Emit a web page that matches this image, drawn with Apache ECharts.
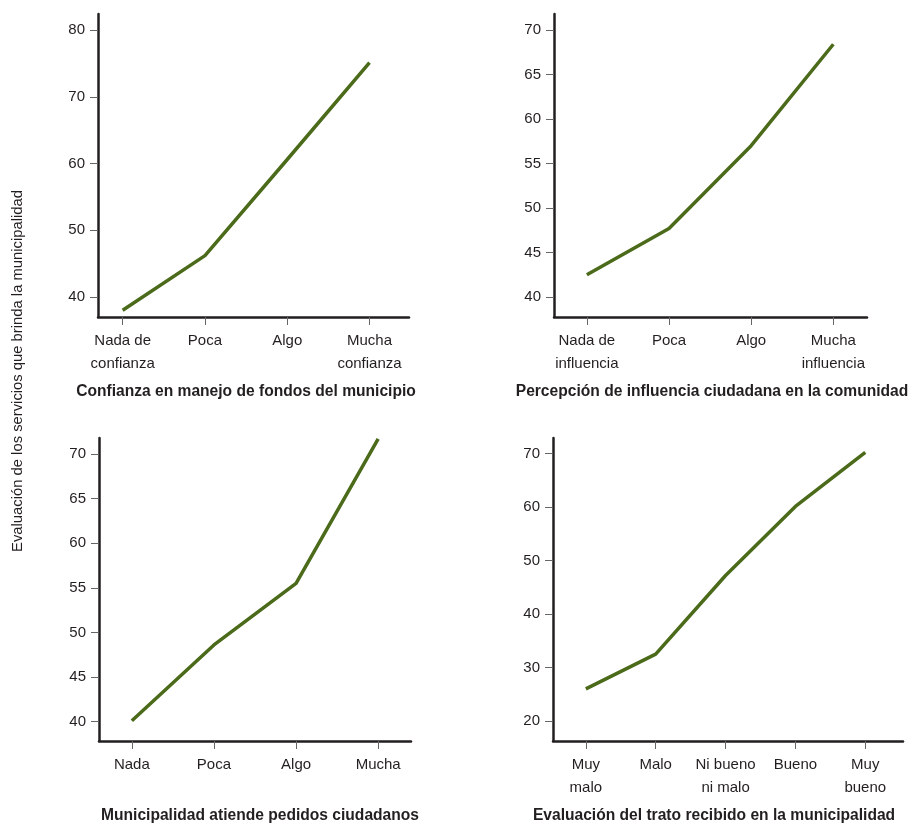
<!DOCTYPE html>
<html><head><meta charset="utf-8">
<script src="https://cdn.jsdelivr.net/npm/echarts@6/dist/echarts.min.js"></script>
<style>html,body{margin:0;padding:0;background:#fff}#c{width:911px;height:823px}</style>
</head><body><div id="c"></div>
<script>
// ---- data ----
const cats1 = ["Nada de\nconfianza", "Poca", "Algo", "Mucha\nconfianza"];
const vals1 = [38.0, 46.2, 60.6, 75.1];
const ticks1 = [40, 50, 60, 70, 80];
const title1 = "Confianza en manejo de fondos del municipio";

const cats2 = ["Nada de\ninfluencia", "Poca", "Algo", "Mucha\ninfluencia"];
const vals2 = [42.5, 47.7, 57.0, 68.4];
const ticks2 = [40, 45, 50, 55, 60, 65, 70];
const title2 = "Percepción de influencia ciudadana en la comunidad";

const cats3 = ["Nada", "Poca", "Algo", "Mucha"];
const vals3 = [40.1, 48.6, 55.5, 71.7];
const ticks3 = [40, 45, 50, 55, 60, 65, 70];
const title3 = "Municipalidad atiende pedidos ciudadanos";

const cats4 = ["Muy\nmalo", "Malo", "Ni bueno\nni malo", "Bueno", "Muy\nbueno"];
const vals4 = [26.0, 32.5, 47.2, 60.1, 70.2];
const ticks4 = [20, 30, 40, 50, 60, 70];
const title4 = "Evaluación del trato recibido en la municipalidad";

const yTitle = "Evaluación de los servicios que brinda la municipalidad";

// ---- layout ----
const boxes = [
  {l: 98, t: 14, r: 409, b: 317, xmin: -0.30, xmax: 3.48, ymin: 37, ymax: 82.4},
  {l: 554, t: 14, r: 867, b: 317, xmin: -0.40, xmax: 3.41, ymin: 37.75, ymax: 71.8},
  {l: 99, t: 438, r: 411, b: 741, xmin: -0.40, xmax: 3.40, ymin: 37.83, ymax: 71.8},
  {l: 553, t: 438, r: 903, b: 741, xmin: -0.47, xmax: 4.54, ymin: 16.26, ymax: 72.9}
];
const panels = [
  {cats: cats1, vals: vals1, ticks: ticks1, title: title1},
  {cats: cats2, vals: vals2, ticks: ticks2, title: title2},
  {cats: cats3, vals: vals3, ticks: ticks3, title: title3},
  {cats: cats4, vals: vals4, ticks: ticks4, title: title4}
];
const titlePos = [[241, 379], [707, 379], [255, 803], [709, 803]];

const FONT = "'Liberation Sans', Arial, sans-serif";
const TXT = "#231f20";
const grid = [], xAxis = [], yAxis = [], series = [], titles = [];
panels.forEach((p, i) => {
  const b = boxes[i];
  grid.push({left: b.l, top: b.t, width: b.r - b.l, height: b.b - b.t, containLabel: false});
  const idx = p.cats.map((_, k) => k);
  xAxis.push({
    type: 'value', gridIndex: i, min: b.xmin, max: b.xmax, position: 'bottom',
    splitLine: {show: false},
    axisLine: {show: true, onZero: false, lineStyle: {color: TXT, width: 2.5}},
    axisTick: {show: true, customValues: idx, length: 8, lineStyle: {color: '#666', width: 1}},
    axisLabel: {show: true, customValues: idx, margin: 12, color: TXT, fontFamily: FONT, fontSize: 15, lineHeight: 23,
      formatter: v => p.cats[Math.round(v)] || ''}
  });
  yAxis.push({
    type: 'value', gridIndex: i, min: b.ymin, max: b.ymax, position: 'left',
    splitLine: {show: false},
    axisLine: {show: true, onZero: false, lineStyle: {color: TXT, width: 2.5}},
    axisTick: {show: true, customValues: p.ticks, length: 8, lineStyle: {color: '#666', width: 1}},
    axisLabel: {show: true, customValues: p.ticks, margin: 13, color: TXT, fontFamily: FONT, fontSize: 15}
  });
  series.push({
    type: 'line', xAxisIndex: i, yAxisIndex: i,
    data: p.vals.map((v, k) => [k, v]),
    symbol: 'none', lineStyle: {color: '#4b6b1b', width: 3.5}, silent: true, animation: false
  });
  titles.push({
    text: p.title, left: titlePos[i][0], top: titlePos[i][1], textAlign: 'center',
    textStyle: {fontFamily: FONT, fontWeight: 'bold', fontSize: 15.6, color: TXT}
  });
});

const chart = echarts.init(document.getElementById('c'), null, {renderer: 'canvas'});
chart.setOption({
  animation: false,
  backgroundColor: '#fff',
  title: titles,
  grid, xAxis, yAxis, series,
  graphic: [{
    type: 'text', x: 18, y: 371, rotation: Math.PI / 2,
    style: {text: yTitle, font: "14.8px " + FONT, fill: TXT, textAlign: 'center', textVerticalAlign: 'middle'}
  }]
});
</script></body></html>
